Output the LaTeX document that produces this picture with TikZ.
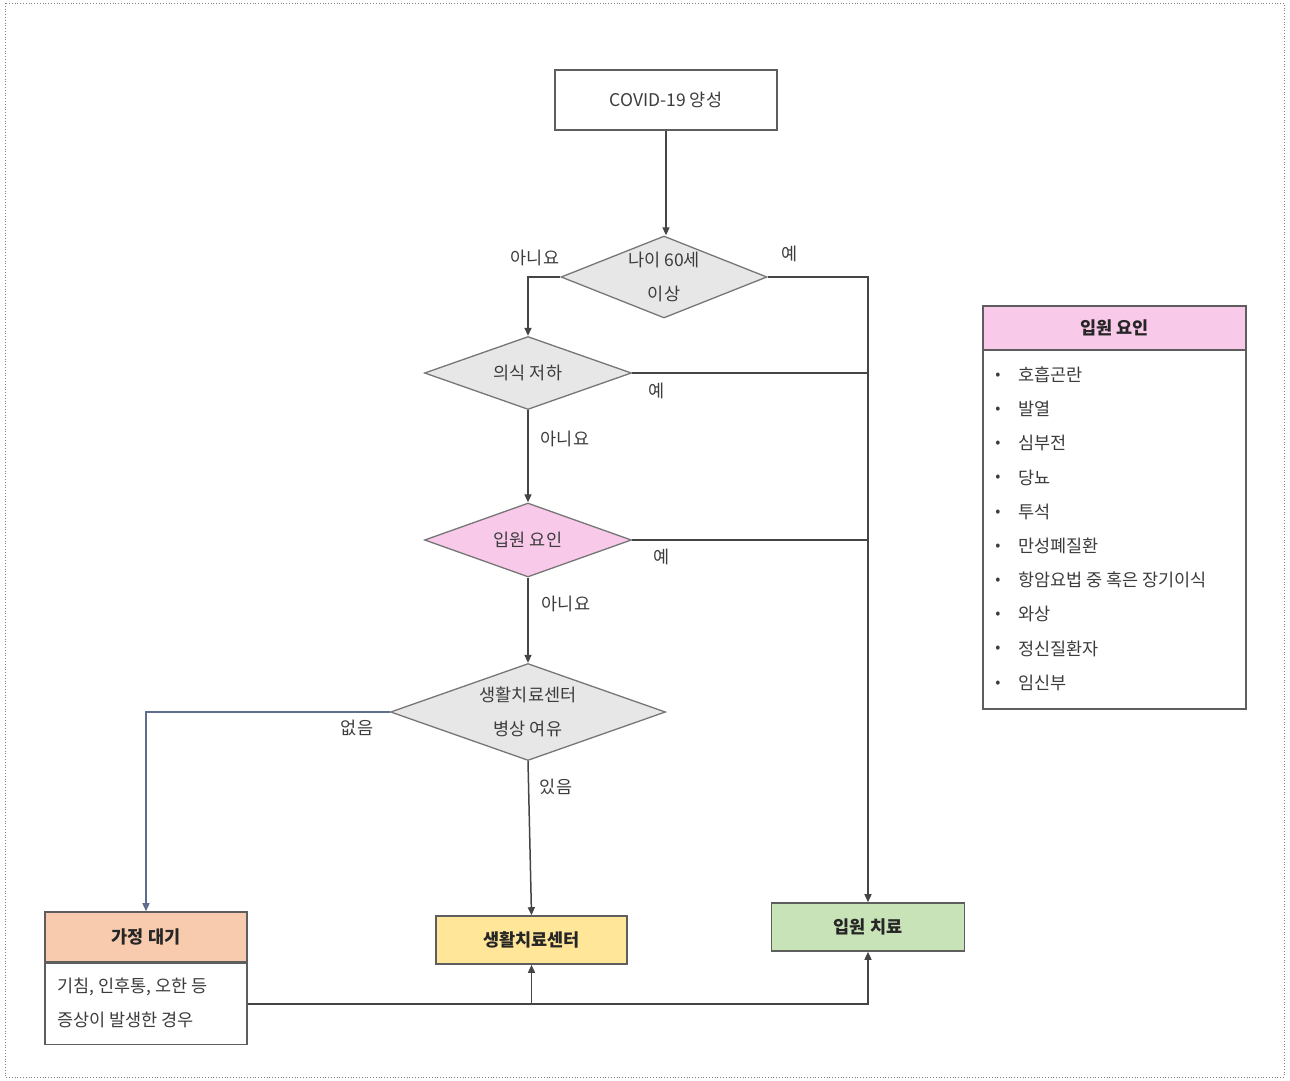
\documentclass[tikz,border=0pt]{standalone}
\usepackage{fontspec}
\setmainfont{Noto Sans CJK KR}
\usetikzlibrary{shapes.geometric,arrows.meta}
\definecolor{txt}{HTML}{3C3C3C}
\definecolor{dark}{HTML}{262626}
\definecolor{diagray}{HTML}{E7E7E7}
\definecolor{edgegray}{HTML}{767676}
\definecolor{boxedge}{HTML}{5E5E5E}
\definecolor{pinkfill}{HTML}{F8C9E8}
\definecolor{orangefill}{HTML}{F9CBAE}
\definecolor{yellowfill}{HTML}{FFE699}
\definecolor{greenfill}{HTML}{C9E3B8}
\definecolor{linecol}{HTML}{454545}
\definecolor{bluecol}{HTML}{5F6E8E}
\tikzset{
  dia/.style={diamond, draw=edgegray, fill=diagray, line width=1.3pt, inner sep=0pt,
    text=txt, align=center, font=\fontsize{17.5}{34}\selectfont},
  boxnode/.style={rectangle, draw=boxedge, line width=1.6pt, inner sep=0pt},
  boldtxt/.style={text=dark, font=\fontsize{17.5}{20}\selectfont\bfseries},
  conn/.style={draw=linecol, line width=1.5pt},
  arr/.style={conn, -{Triangle[length=8pt,width=7pt]}},
  lbl/.style={text=txt, font=\fontsize{17.5}{20}\selectfont, inner sep=0pt},
  item/.style={text=txt, font=\fontsize{17.5}{20}\selectfont, inner sep=0pt, anchor=west},
}
\begin{document}
\begin{tikzpicture}[x=1pt,y=-1pt]
\useasboundingbox (0,0) rectangle (1290,1081);
\draw[dotted, gray, line width=0.8pt] (5,3) rectangle (1284,1077);

% start box
\node[boxnode, fill=white, minimum width=222pt, minimum height=60pt, text=txt,
  font=\fontsize{17.5}{20}\selectfont] (start) at (666,100) {COVID-19 양성};

% diamonds
\node[dia, shape aspect=2.5, minimum width=206pt, minimum height=82pt] (d1) at (664,277) {나이 60세\\이상};
\node[dia, shape aspect=2.8, minimum width=207pt, minimum height=73pt] (d2) at (528,373) {의식 저하};
\node[dia, shape aspect=2.8, minimum width=207pt, minimum height=74pt, fill=pinkfill] (d3) at (528,540) {입원 요인};
\node[dia, shape aspect=2.8, minimum width=275pt, minimum height=97pt] (d4) at (528,712) {생활치료센터\\병상 여유};

% result boxes
\node[boxnode, fill=orangefill, minimum width=202pt, minimum height=50pt, boldtxt] (home) at (146,937) {가정 대기};
\node[boxnode, fill=white, minimum width=202pt, minimum height=81pt, anchor=north] (homebody) at (home.south) {};
\node[text=txt, font=\fontsize{17.5}{34}\selectfont, align=left, anchor=west, inner sep=0pt] (hometext) at (57,1003) {기침, 인후통, 오한 등\\증상이 발생한 경우};
\node[boxnode, fill=yellowfill, minimum width=191pt, minimum height=48pt, boldtxt] (center) at (531.5,940) {생활치료센터};
\node[boxnode, fill=greenfill, minimum width=193pt, minimum height=48pt, boldtxt] (treat) at (868,927) {입원 치료};

% legend
\node[boxnode, fill=white, minimum width=263pt, minimum height=403pt] (legend) at (1114.5,507.5) {};
\node[boxnode, fill=pinkfill, minimum width=263pt, minimum height=44pt, anchor=north, boldtxt] (legendhead) at (legend.north) {입원 요인};
\foreach \t [count=\i from 0] in {호흡곤란, 발열, 심부전, 당뇨, 투석, 만성폐질환, 항암요법 중 혹은 장기이식, 와상, 정신질환자, 임신부} {
  \node[lbl, font=\fontsize{15}{16}\selectfont] (b\i) at (998, 376+34.2*\i) {•};
  \node[item] (it\i) at (1018, 375+34.2*\i) {\t};
}

% connectors
\draw[arr] (start.south) -- (start.south |- d1.north);
\draw[arr] (d1.west) -| (d2.north);
\draw[arr] (d1.east) -| (treat.north);
\draw[conn] (d2.east) -- (d2.east -| treat.north);
\draw[conn] (d3.east) -- (d3.east -| treat.north);
\draw[arr] (d2.south) -- (d3.north);
\draw[arr] (d3.south) -- (d4.north);
\draw[arr, draw=bluecol] (d4.west) -| (home.north);
\draw[arr] (d4.south) -- (center.north);
\coordinate (jn) at (homebody.east -| center.south);
\draw[arr] (homebody.east) -| (treat.south);
\draw[arr] (jn) -- (center.south);

% labels
\node[lbl] (l1) at (535,258) {아니요};
\node[lbl] (l2) at (790,254) {예};
\node[lbl] (l3) at (657,391) {예};
\node[lbl] (l4) at (565,439) {아니요};
\node[lbl] (l5) at (662,557) {예};
\node[lbl] (l6) at (566,604) {아니요};
\node[lbl] (l7) at (357,728) {없음};
\node[lbl] (l8) at (556,787) {있음};
\end{tikzpicture}
\end{document}
